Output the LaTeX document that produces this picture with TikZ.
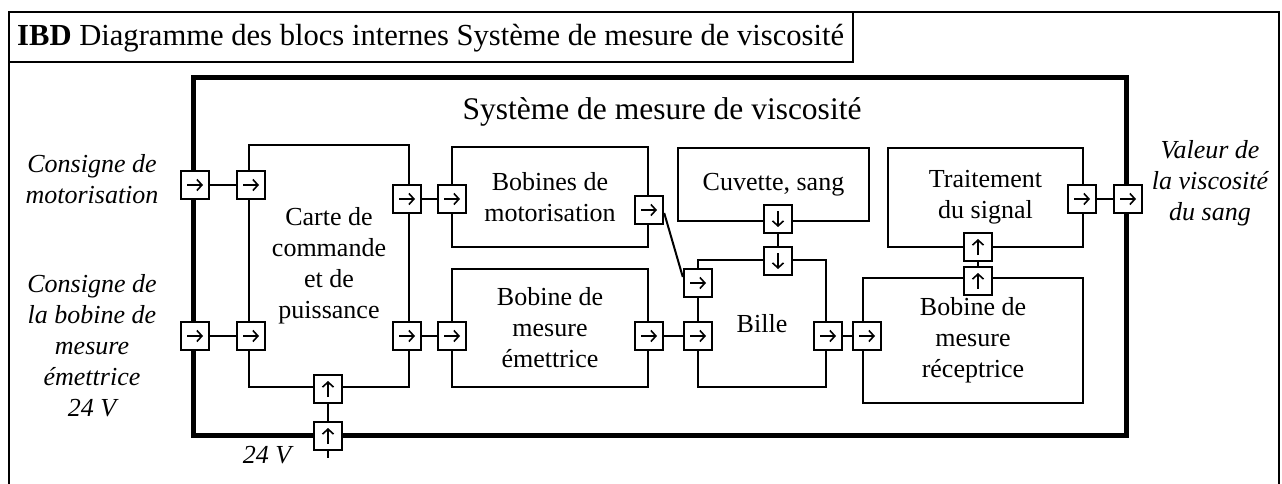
\documentclass[tikz,border=0pt]{standalone}
\usepackage{fontspec}
\setmainfont{Liberation Serif}
\usetikzlibrary{arrows.meta}
\begin{document}
\begin{tikzpicture}[x=1pt,y=-1pt,
  blk/.style={draw, line width=2.6pt, inner sep=0pt, align=center, font=\fontsize{26}{31}\selectfont},
  lab/.style={inner sep=0pt, align=center, font=\fontsize{26}{31}\selectfont\itshape},
  conn/.style={line width=2pt},
  port/.style={draw, fill=white, line width=2.4pt, minimum size=28pt, inner sep=0pt},
  arr/.style={line width=1.6pt, -{Straight Barb[length=5pt,width=11pt]}},
  pR/.style={port, path picture={\draw[arr] ([xshift=-8pt]path picture bounding box.center) -- ([xshift=8pt]path picture bounding box.center);}},
  pU/.style={port, path picture={\draw[arr] ([yshift=-8pt]path picture bounding box.center) -- ([yshift=8pt]path picture bounding box.center);}},
  pD/.style={port, path picture={\draw[arr] ([yshift=8pt]path picture bounding box.center) -- ([yshift=-8pt]path picture bounding box.center);}}
]
\useasboundingbox (0,0) rectangle (1282,484);
% outer frame and title
\draw[line width=2.5pt] (9,484) -- (9,12) -- (1279,12) -- (1279,484);
\node[draw, line width=2.5pt, minimum width=844pt, minimum height=50pt, inner sep=0pt] (titlebox) at (431,37) {};
\node[anchor=west, inner sep=0pt, font=\fontsize{30.6}{36}\selectfont] (title) at (17,38) {\textbf{IBD} Diagramme des blocs internes Système de mesure de viscosité};
% system frame
\node[draw, line width=5pt, minimum width=933pt, minimum height=357pt, inner sep=0pt] (sys) at (659.5,256.5) {};
\node[inner sep=0pt, font=\fontsize{31.5}{38}\selectfont] (syslab) at (662,112) {Système de mesure de viscosité};
% blocks
\node[blk, minimum width=160pt, minimum height=242pt] (carte) at (329,266) {Carte de\\commande\\et de\\puissance};
\node[blk, minimum width=196pt, minimum height=100pt] (bobm) at (550,197) {Bobines de\\motorisation};
\node[blk, minimum width=196pt, minimum height=118pt] (bobe) at (550,328) {Bobine de\\mesure\\émettrice};
\node[blk, minimum width=191pt, minimum height=73pt] (cuv) at (773.5,184.5) {Cuvette, sang};
\node[blk, minimum width=128pt, minimum height=127pt] (bille) at (762,323.5) {Bille};
\node[blk, minimum width=195pt, minimum height=99pt] (trait) at (985.5,197.5) {Traitement\\du signal};
\node[blk, minimum width=220pt, minimum height=125pt] (bobr) at (973,340.5) {Bobine de\\mesure\\réceptrice};
% external labels
\node[lab] (l1) at (92,179) {Consigne de\\motorisation};
\node[lab] (l2) at (92,346) {Consigne de\\la bobine de\\mesure\\émettrice\\24 V};
\node[lab] (l3) at (1210,183) {Valeur de\\la viscosité\\du sang};
\node[lab] (l4) at (267,455) {24 V};
% ports
\node[pR] (tIn1) at (195,185) {};
\node[pR] (cIn1) at (251,185) {};
\node[pR] (tIn2) at (195,336) {};
\node[pR] (cIn2) at (251,336) {};
\node[pR] (cOut1) at (407,199) {};
\node[pR] (bIn) at (452,199) {};
\node[pR] (bOut) at (649,210) {};
\node[pR] (cOut2) at (407,336) {};
\node[pR] (eIn) at (452,336) {};
\node[pR] (eOut) at (649,336) {};
\node[pR] (biIn1) at (698,283) {};
\node[pR] (biIn2) at (698,336) {};
\node[pD] (cuOut) at (778,219) {};
\node[pD] (biTop) at (778,261) {};
\node[pR] (biOut) at (828,336) {};
\node[pR] (rIn) at (867,336) {};
\node[pU] (rOut) at (978,281) {};
\node[pU] (tIn) at (978,247) {};
\node[pR] (trOut) at (1082,199) {};
\node[pR] (tOut) at (1128,199) {};
\node[pU] (cPow) at (328,389) {};
\node[pU] (tPow) at (328,436) {};
\coordinate (pEnd) at (328,458);
% connectors
\draw[conn] (tIn1) -- (cIn1);
\draw[conn] (tIn2) -- (cIn2);
\draw[conn] (cOut1) -- (bIn);
\draw[conn] (cOut2) -- (eIn);
\draw[conn] (eOut) -- (biIn2);
\draw[conn] ([yshift=-3pt]bOut.east) -- ([yshift=6pt]biIn1.west);
\draw[conn] (cuOut) -- (biTop);
\draw[conn] (biOut) -- (rIn);
\draw[conn] (rOut) -- (tIn);
\draw[conn] (trOut) -- (tOut);
\draw[conn] (cPow) -- (tPow);
\draw[conn] (tPow) -- (pEnd);
\end{tikzpicture}
\end{document}
